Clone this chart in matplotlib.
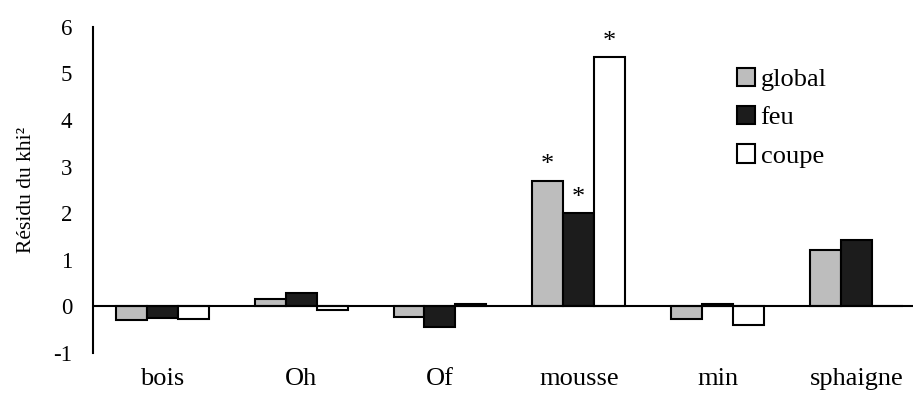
import numpy as np
import matplotlib

matplotlib.use("Agg")
import matplotlib.pyplot as plt
from matplotlib.patches import Patch

# ── data ─────────────────────────────────────────────────────────────────
categories = ["bois", "Oh", "Of", "mousse", "min", "sphaigne"]
series_names = ["global", "feu", "coupe"]
global_vals = [-0.30, 0.15, -0.22, 2.70, -0.26, 1.22]
feu_vals = [-0.25, 0.28, -0.44, 2.00, 0.06, 1.43]
coupe_vals = [-0.26, -0.07, 0.05, 5.35, -0.40, 0.0]
# significant residuals (category index, series index)
significant = [(3, 0), (3, 1), (3, 2)]
y_ticks = [-1, 0, 1, 2, 3, 4, 5, 6]

colors = ["#bdbdbd", "#1c1c1c", "#ffffff"]

plt.rcParams["font.family"] = ["Liberation Serif", "DejaVu Serif"]

fig = plt.figure(figsize=(9.16, 4.0), dpi=100)
ax = fig.add_axes([0.1015, 0.1175, 0.8955, 0.8155])

x = np.arange(len(categories))
width = 0.223
all_vals = [global_vals, feu_vals, coupe_vals]
for i, (vals, name, col) in enumerate(zip(all_vals, series_names, colors)):
    offs = (i - 1) * width
    ax.bar(x + offs, vals, width, color=col, edgecolor="black",
           linewidth=1.5, label=name, zorder=2)

for ci, si in significant:
    val = all_vals[si][ci]
    ax.annotate("*", xy=(x[ci] + (si - 1) * width, val),
                xytext=(0, 3), textcoords="offset points",
                ha="center", va="bottom", fontsize=19)

ax.axhline(0, color="black", linewidth=1.5, zorder=3)
ax.set_xlim(-0.5, 5.41)
ax.set_ylim(-1, 6)
ax.set_yticks(y_ticks)
ax.set_yticklabels([str(t) for t in y_ticks], fontsize=16.5)
ax.set_xticks(x)
ax.set_xticklabels(categories, fontsize=19)
ax.tick_params(axis="both", length=0)
ax.tick_params(axis="y", pad=15)
ax.tick_params(axis="x", pad=11)
ax.set_ylabel("Résidu du khi²", fontsize=15.5, labelpad=12)

for side in ("top", "right", "bottom"):
    ax.spines[side].set_visible(False)
ax.spines["left"].set_linewidth(1.5)

handles = [Patch(facecolor=c, edgecolor="black", linewidth=1.5, label=n)
           for c, n in zip(colors, series_names)]
ax.legend(handles=handles, loc="upper left", bbox_to_anchor=(0.785, 0.875),
          frameon=False, fontsize=19, handlelength=0.7, handleheight=0.7,
          handletextpad=0.2, labelspacing=0.56, borderpad=0, borderaxespad=0)

fig.savefig("out.png", dpi=100)
